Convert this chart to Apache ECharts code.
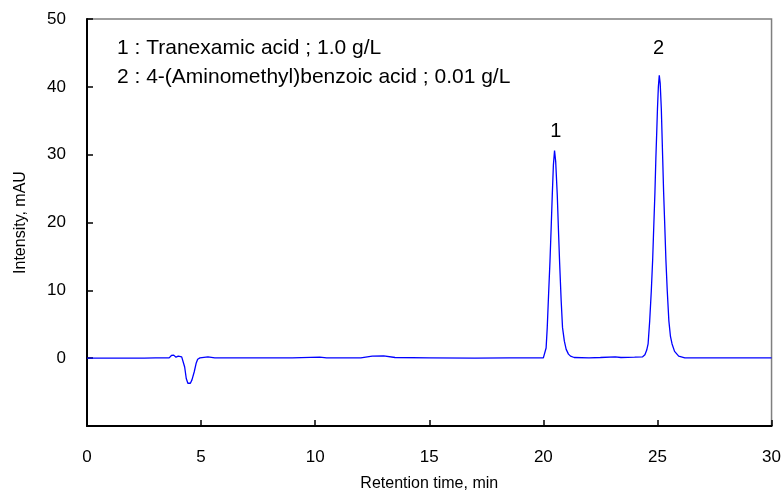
<!DOCTYPE html>
<html>
<head>
<meta charset="utf-8">
<script src="https://cdn.jsdelivr.net/npm/echarts@6/dist/echarts.min.js"></script>
<style>html,body{margin:0;padding:0;background:#fff}#c{width:784px;height:497px}</style>
</head>
<body>
<div id="c"></div>
<script>
// Retention time (min)
var times = [0, 2.5, 3.0, 3.6, 3.7, 3.8, 3.9, 4.0, 4.15, 4.22, 4.28, 4.35, 4.42, 4.47, 4.53, 4.6, 4.7, 4.78, 4.85, 4.95, 5.3, 5.6, 7.0, 9.0, 10.2, 10.5, 12.0, 12.5, 13.0, 13.5, 15.0, 17.0, 18.5, 20.0,
  20.05, 20.12, 20.17, 20.23, 20.29, 20.35, 20.39, 20.44, 20.49, 20.54, 20.61, 20.66, 20.71, 20.78, 20.84, 20.92, 21.0, 21.1, 21.19, 21.35,
  22.0, 22.5, 23.15, 23.4, 24.0, 24.35,
  24.45, 24.53, 24.59, 24.66, 24.73, 24.79, 24.84, 24.89, 24.93, 24.97, 25.0, 25.04, 25.08, 25.12, 25.17, 25.23, 25.27, 25.32, 25.37, 25.43, 25.5, 25.57, 25.64, 25.75, 25.93, 26.2, 27.5, 30];
// Intensity (mAU)
var intensity = [0, 0, 0.05, 0.05, 0.4, 0.45, 0.15, 0.3, 0.2, 0.0, -1.3, -3.0, -3.7, -3.85, -3.7, -3.2, -2.0, -0.8, -0.15, 0.05, 0.2, 0.05, 0.05, 0.05, 0.15, 0.05, 0.05, 0.3, 0.35, 0.1, 0.05, 0.0, 0.05, 0.05,
  0.3, 1.5, 4.5, 9.5, 14.3, 20, 24.0, 28.5, 30.6, 29, 24.0, 19, 14.3, 8.5, 4.5, 2.5, 1.3, 0.6, 0.3, 0.1,
  0.05, 0.1, 0.2, 0.1, 0.15, 0.2,
  0.5, 1.2, 2.1, 5.5, 9.9, 14.5, 19.6, 24.5, 29.4, 33.5, 36.7, 40, 41.7, 40.5, 36.7, 29.4, 24.5, 19.6, 14.5, 9.9, 5.5, 3.2, 2.1, 1.0, 0.3, 0.05, 0.05, 0.05];
// Peak labels
var peakNames = ['1', '2'];
var peakTimes = [20.55, 25.05];
var peakLabelY = [33.4, 45.6];
// Legend lines
var legendLines = ['1 : Tranexamic acid ; 1.0 g/L', '2 : 4-(Aminomethyl)benzoic acid ; 0.01 g/L'];
var xTicks = [0, 5, 10, 15, 20, 25, 30];
var yTicks = [-10, 0, 10, 20, 30, 40, 50];

var FONT = 'Liberation Sans, Arial, sans-serif';
var data = times.map(function (t, i) { return [t, intensity[i]]; });

var chart = echarts.init(document.getElementById('c'), null, {renderer: 'canvas'});
chart.setOption({
  animation: false,
  backgroundColor: '#fff',
  grid: {left: 87, right: 11, top: 19, bottom: 68, show: true, borderColor: '#7f7f7f', borderWidth: 1.5, backgroundColor: 'transparent'},
  xAxis: {
    type: 'value', min: xTicks[0], max: xTicks[xTicks.length - 1], interval: 5,
    name: 'Retention time, min', nameLocation: 'middle', nameGap: 50,
    nameTextStyle: {fontFamily: FONT, fontSize: 16, color: '#000'},
    axisLine: {onZero: false, lineStyle: {color: '#000', width: 2}},
    axisTick: {show: true, inside: true, length: 6, lineStyle: {color: '#000', width: 1.5}},
    axisLabel: {fontFamily: FONT, fontSize: 17, color: '#000', margin: 23},
    splitLine: {show: false}
  },
  yAxis: {
    type: 'value', min: yTicks[0], max: yTicks[yTicks.length - 1], interval: 10,
    name: 'Intensity, mAU', nameLocation: 'middle', nameGap: 58, nameRotate: 90,
    nameTextStyle: {fontFamily: FONT, fontSize: 16, color: '#000'},
    axisLine: {onZero: false, lineStyle: {color: '#000', width: 2}},
    axisTick: {show: true, inside: true, length: 6, lineStyle: {color: '#000', width: 1.5}},
    axisLabel: {fontFamily: FONT, fontSize: 17, color: '#000', margin: 21,
      formatter: function (v) { return v < 0 ? '' : String(v); }},
    splitLine: {show: false}
  },
  graphic: [
    {type: 'text', left: 117, top: 38, style: {text: legendLines[0], fontFamily: FONT, fontSize: 21, fill: '#000'}},
    {type: 'text', left: 117, top: 67, style: {text: legendLines[1], fontFamily: FONT, fontSize: 21, fill: '#000'}}
  ],
  series: [{
    type: 'line', data: data, showSymbol: false, symbol: 'none',
    lineStyle: {color: '#0000ff', width: 1.3},
    markPoint: {
      symbol: 'circle', symbolSize: 0,
      label: {show: true, position: 'inside', fontFamily: FONT, fontSize: 20, color: '#000', formatter: function (p) { return p.name; }},
      data: peakNames.map(function (n, i) { return {name: n, coord: [peakTimes[i], peakLabelY[i]]}; })
    }
  }]
});
</script>
</body>
</html>
